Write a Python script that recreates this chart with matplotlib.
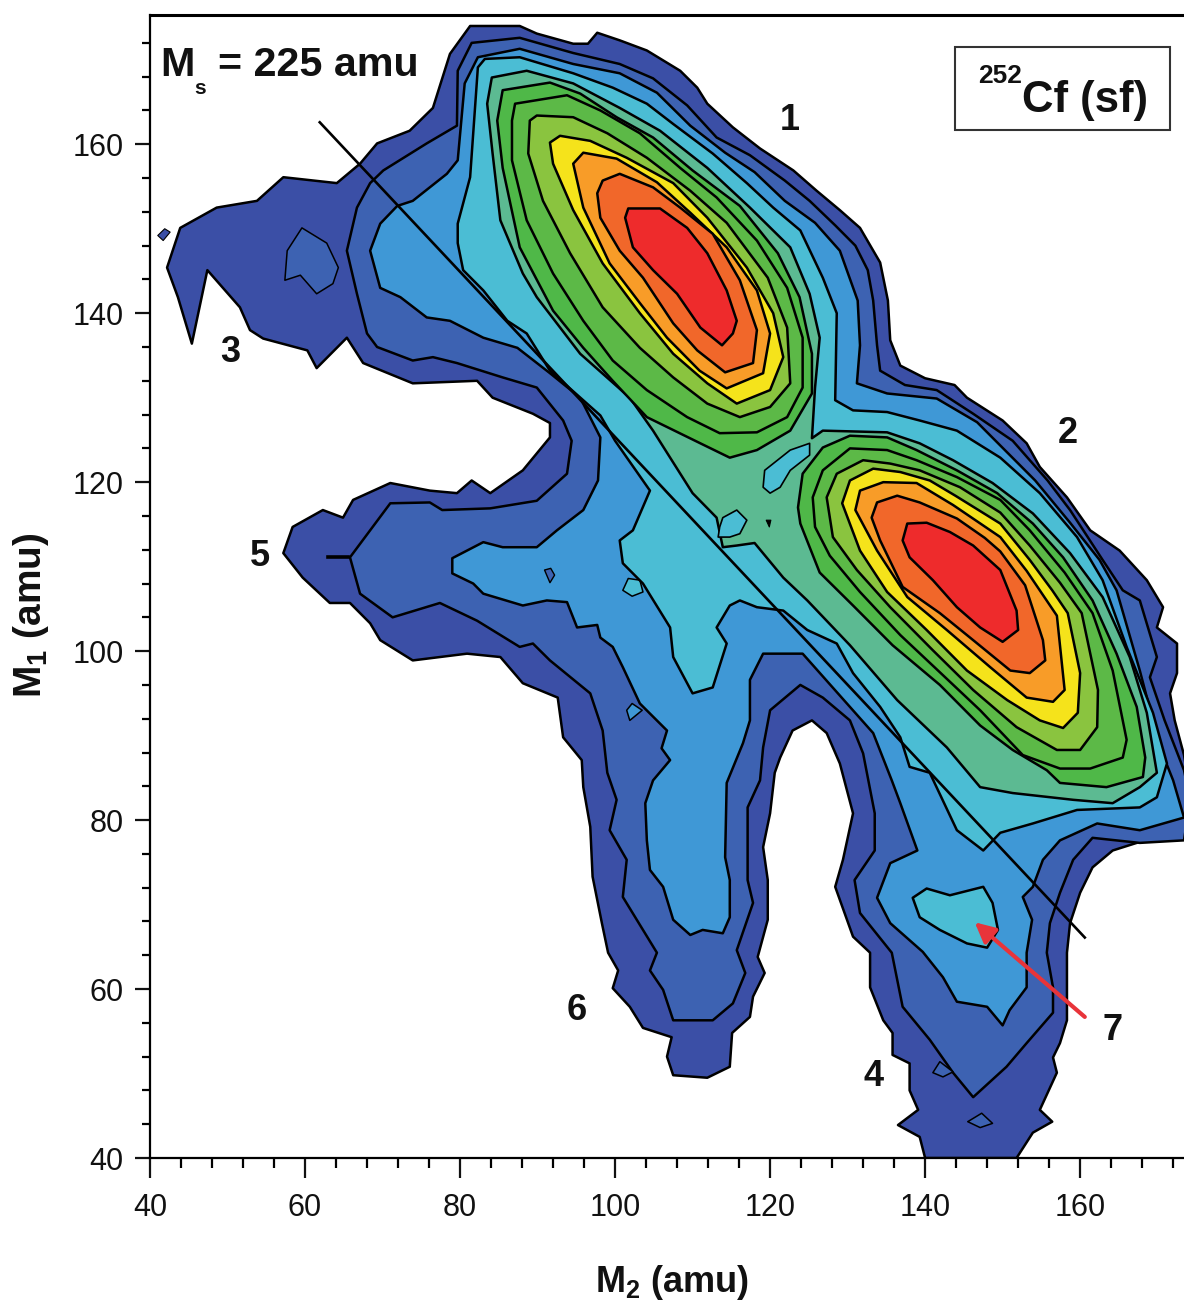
import matplotlib
matplotlib.use("Agg")
import matplotlib.pyplot as plt
from matplotlib.patches import Rectangle
from matplotlib.ticker import MultipleLocator

# contour outlines, (M2, M1) in amu
level0 = [(81.3, 174.0), (87.7, 174.0), (89.9, 173.1), (94.6, 171.9), (96.5, 171.9), (97.7, 173.2), (100.6, 172.3),
          (104.1, 171.1), (108.4, 168.7), (110.6, 166.7), (111.9, 164.8), (115.2, 162.0), (118.7, 159.5), (123.0, 156.9),
          (126.0, 154.5), (129.0, 152.2), (131.6, 150.1), (134.2, 146.0), (135.2, 141.5), (135.5, 136.8), (136.8, 133.8),
          (140.0, 132.3), (143.8, 131.5), (145.4, 130.0), (150.0, 127.3), (153.1, 124.6), (154.8, 121.8), (158.3, 118.2),
          (161.3, 114.3), (165.1, 111.9), (168.6, 108.4), (170.7, 105.2), (169.9, 102.8), (172.5, 100.9), (172.5, 97.4),
          (171.6, 95.0), (172.2, 91.8), (173.4, 87.7), (174.2, 83.5), (173.4, 79.4), (167.3, 77.3), (164.2, 76.4),
          (161.6, 74.4), (160.0, 71.4), (158.7, 67.8), (158.3, 64.3), (158.3, 56.3), (157.4, 53.6), (156.5, 51.9),
          (157.0, 50.1), (154.8, 45.7), (156.4, 44.3), (153.9, 43.0), (151.8, 40.0), (140.0, 40.0), (139.3, 42.5),
          (136.5, 43.9), (139.1, 45.7), (138.0, 48.0), (138.0, 51.2), (135.8, 52.2), (135.8, 54.8), (134.6, 56.3),
          (132.9, 60.2), (132.9, 64.3), (130.7, 66.2), (128.4, 72.1), (129.4, 75.3), (130.7, 80.8), (129.0, 86.7),
          (127.3, 90.3), (125.4, 91.8), (122.9, 90.6), (121.3, 87.4), (120.6, 85.6), (120.0, 80.8), (119.1, 76.8),
          (119.7, 72.9), (119.7, 68.2), (118.4, 63.8), (119.3, 61.9), (117.8, 59.1), (117.4, 56.7), (115.1, 54.8),
          (114.8, 50.8), (111.9, 49.5), (107.5, 49.8), (106.7, 52.0), (107.3, 54.3), (103.6, 55.4), (101.9, 57.9),
          (99.7, 60.1), (100.4, 62.2), (99.1, 64.3), (98.3, 67.8), (97.1, 73.3), (96.8, 79.2), (95.9, 83.9), (95.7, 87.1),
          (93.3, 89.8), (92.6, 94.5), (88.1, 96.2), (85.2, 99.3), (80.9, 99.7), (73.9, 98.9), (69.7, 101.3), (68.4, 103.3),
          (65.8, 105.7), (63.2, 105.7), (59.7, 108.7), (57.2, 111.6), (58.4, 114.7), (62.3, 116.7), (64.9, 115.8),
          (66.2, 117.9), (71.0, 119.9), (76.1, 119.0), (79.6, 118.7), (81.5, 120.2), (83.9, 118.7), (88.1, 121.4),
          (91.6, 125.3), (91.6, 127.0), (89.4, 128.1), (84.2, 130.0), (82.2, 132.0), (73.9, 131.7), (67.5, 134.1),
          (65.4, 137.1), (61.5, 133.5), (60.3, 135.6), (54.6, 137.0), (52.9, 138.0), (51.6, 140.7), (47.4, 145.1),
          (45.4, 136.4), (43.6, 141.9), (42.2, 145.4), (43.9, 150.1), (48.6, 152.5), (53.8, 153.3), (57.2, 156.1),
          (64.1, 155.4), (67.1, 157.7), (69.3, 160.1), (73.5, 161.6), (76.5, 164.3), (78.7, 170.7)]
level1 = [(81.5, 172.0), (87.7, 172.6), (94.6, 170.8), (100.6, 169.5), (104.9, 167.8), (109.3, 164.6), (113.1, 160.8),
          (117.4, 158.7), (121.9, 155.7), (125.1, 153.3), (128.4, 150.4), (131.0, 148.0), (132.6, 145.1), (133.3, 141.5),
          (133.8, 136.2), (134.2, 133.2), (137.4, 131.5), (141.5, 130.9), (146.2, 128.1), (151.3, 124.9), (155.8, 120.2),
          (158.7, 116.7), (162.9, 110.8), (165.5, 107.2), (167.7, 106.0), (169.9, 99.3), (169.0, 96.9), (170.9, 91.8),
          (173.4, 85.9), (174.2, 82.4), (173.4, 77.6), (167.7, 77.3), (161.6, 77.9), (159.1, 75.3), (157.4, 71.4),
          (156.1, 67.8), (155.7, 64.3), (156.5, 60.2), (156.5, 57.2), (153.1, 53.6), (150.5, 50.8), (146.2, 47.2),
          (143.6, 50.1), (140.6, 54.0), (137.1, 57.9), (135.7, 64.3), (131.6, 69.0), (130.9, 72.9), (133.5, 76.4),
          (133.5, 80.8), (132.0, 87.9), (130.3, 91.8), (126.8, 94.5), (123.9, 96.0), (120.0, 93.0), (119.1, 88.6),
          (118.7, 84.7), (117.1, 81.5), (117.1, 72.9), (117.8, 70.2), (115.7, 64.6), (116.8, 61.9), (115.2, 58.3),
          (112.6, 56.3), (107.5, 56.3), (106.2, 59.9), (104.5, 62.2), (105.4, 64.3), (101.0, 70.9), (101.5, 75.3),
          (99.3, 78.8), (100.2, 82.4), (99.0, 85.6), (98.4, 90.6), (96.8, 95.0), (91.6, 98.9), (89.4, 100.9), (87.7, 100.5),
          (82.2, 103.6), (77.4, 105.7), (71.3, 104.0), (67.1, 106.8), (65.8, 111.1), (71.0, 117.5), (76.1, 117.6),
          (77.7, 116.7), (83.9, 116.9), (89.9, 117.8), (93.8, 121.0), (94.4, 124.9), (93.3, 127.3), (89.9, 131.2),
          (85.5, 132.4), (79.6, 134.1), (76.5, 134.8), (73.9, 134.4), (69.3, 136.0), (68.0, 137.6), (66.7, 142.3),
          (65.4, 147.4), (66.7, 152.5), (68.4, 155.4), (70.1, 156.9), (75.7, 160.1), (79.6, 162.2), (79.7, 168.7)]
level2 = [(82.3, 170.3), (87.7, 171.3), (94.6, 169.5), (100.6, 168.4), (105.4, 166.1), (109.7, 162.2), (114.2, 159.0),
          (118.0, 156.7), (121.9, 153.3), (125.8, 150.7), (129.0, 147.4), (131.3, 141.5), (131.6, 136.2), (131.2, 131.7),
          (135.1, 130.5), (141.5, 129.9), (146.7, 127.1), (154.2, 120.2), (158.7, 115.2), (162.5, 110.8), (164.7, 107.2),
          (167.7, 97.7), (170.3, 88.6), (172.0, 84.7), (173.4, 80.3), (167.7, 78.8), (162.2, 79.6), (157.4, 77.6),
          (155.2, 75.3), (153.9, 72.1), (152.6, 70.9), (153.8, 68.2), (153.1, 64.3), (153.1, 60.2), (150.9, 57.5),
          (150.0, 55.7), (148.0, 57.9), (144.1, 58.5), (142.3, 61.4), (139.7, 64.4), (135.5, 67.8), (133.8, 70.8),
          (135.5, 74.9), (139.0, 76.4), (136.8, 82.0), (135.7, 84.7), (133.3, 90.3), (124.2, 99.7), (119.1, 99.7),
          (117.4, 96.6), (117.4, 91.8), (116.5, 89.1), (114.4, 84.4), (114.2, 75.6), (114.8, 72.9), (114.8, 68.5),
          (113.9, 66.6), (111.3, 67.0), (109.7, 66.4), (107.5, 68.2), (106.2, 72.1), (104.5, 74.1), (104.1, 77.6),
          (103.9, 82.0), (104.9, 84.7), (107.1, 87.1), (106.0, 88.5), (106.7, 90.6), (103.2, 93.8), (101.0, 98.1),
          (99.7, 100.5), (98.1, 101.6), (97.7, 103.1), (95.1, 102.8), (93.8, 105.8), (91.2, 106.0), (88.1, 105.4),
          (83.0, 106.8), (81.7, 108.0), (79.0, 109.2), (79.0, 111.0), (83.0, 112.9), (85.5, 112.3), (89.9, 112.3),
          (92.5, 114.3), (95.9, 116.7), (97.8, 120.2), (98.1, 125.3), (95.5, 130.0), (91.6, 132.9), (87.4, 135.9),
          (83.0, 137.1), (78.7, 139.1), (75.7, 139.5), (72.3, 141.9), (69.7, 143.0), (68.4, 147.4), (69.7, 150.6),
          (71.9, 152.7), (73.9, 153.3), (78.3, 156.5), (79.7, 158.1), (80.6, 167.2)]
level3 = [(83.2, 170.1), (87.7, 170.3), (94.6, 168.4), (99.7, 166.7), (104.1, 164.8), (107.5, 162.4), (112.6, 158.9),
          (117.0, 155.4), (120.4, 152.5), (123.9, 149.8), (126.8, 144.2), (128.6, 140.0), (128.4, 129.7), (130.7, 128.5),
          (135.1, 128.3), (139.3, 127.3), (144.1, 126.1), (149.7, 122.9), (154.8, 118.7), (159.6, 113.5), (162.9, 108.4),
          (166.0, 100.5), (169.4, 92.7), (171.2, 86.7), (169.9, 82.7), (167.7, 81.5), (159.6, 81.2), (153.9, 79.6),
          (149.7, 78.5), (147.5, 76.4), (144.1, 78.8), (140.6, 85.6), (138.0, 86.3), (136.8, 89.8), (134.2, 93.4),
          (130.7, 97.4), (128.6, 100.9), (124.8, 102.5), (121.7, 104.8), (118.3, 105.2), (116.1, 106.0), (114.8, 105.4),
          (113.1, 102.8), (114.4, 100.9), (112.6, 95.7), (110.0, 95.0), (107.5, 99.3), (107.1, 102.8), (103.6, 108.0),
          (101.0, 110.4), (100.6, 113.1), (102.3, 114.3), (104.5, 119.0), (100.0, 124.9), (98.1, 127.9), (91.6, 133.2),
          (88.6, 137.6), (86.1, 139.1), (83.0, 142.7), (80.4, 145.1), (79.7, 148.3), (79.7, 150.6), (81.3, 156.1),
          (82.3, 169.1)]
level4 = [(84.1, 167.9), (88.6, 168.7), (94.6, 167.2), (100.6, 164.3), (105.8, 161.6), (111.9, 157.2), (117.4, 152.5),
          (122.6, 147.8), (125.1, 142.3), (126.4, 137.1), (125.8, 131.2), (125.4, 125.2), (126.8, 126.1), (135.1, 125.9),
          (139.3, 124.6), (143.6, 122.6), (148.7, 119.9), (153.9, 116.3), (158.7, 111.6), (162.9, 106.4), (166.4, 99.3),
          (168.6, 92.7), (169.9, 85.6), (167.7, 83.9), (164.2, 82.0), (159.1, 82.4), (151.3, 83.2), (147.1, 83.9),
          (142.8, 88.6), (136.4, 94.2), (130.3, 100.7), (124.8, 106.0), (121.7, 108.7), (118.0, 112.8), (115.7, 112.5),
          (113.9, 112.3), (113.1, 115.8), (110.0, 118.7), (104.9, 126.1), (101.9, 130.0), (95.5, 135.2), (89.9, 141.9),
          (88.1, 144.7), (85.2, 151.0), (84.2, 158.9), (83.5, 164.8)]

# peak 1, upper left of the two
peak1_level5 = [(85.5, 166.4), (91.6, 167.3), (95.5, 166.0), (100.2, 163.2), (104.9, 160.8), (110.0, 156.9), (116.1, 152.7),
                (121.0, 147.1), (123.8, 141.9), (125.4, 135.2), (125.4, 130.5), (122.6, 126.1), (118.3, 123.8),
                (114.8, 122.9), (111.0, 124.6), (104.1, 127.7), (99.7, 132.0), (95.9, 135.9), (92.0, 140.3), (87.7, 147.8),
                (85.5, 157.2), (84.8, 162.8)]
peak1_level6 = [(87.1, 164.8), (93.8, 165.8), (98.1, 164.0), (103.2, 161.3), (108.4, 157.2), (113.1, 153.7), (118.3, 148.6),
                (122.2, 143.0), (124.2, 137.1), (124.2, 131.2), (122.2, 127.7), (118.3, 125.9), (113.5, 125.8),
                (109.3, 127.7), (104.1, 130.9), (99.7, 134.4), (95.9, 139.1), (92.0, 144.7), (88.6, 151.0), (86.7, 158.1),
                (86.7, 162.8)]
peak1_level7 = [(89.0, 162.8), (89.9, 163.4), (94.6, 163.2), (99.0, 161.3), (104.1, 158.4), (109.7, 154.5), (114.4, 150.7),
                (119.7, 144.2), (122.2, 138.3), (122.6, 131.7), (120.0, 128.9), (116.1, 127.7), (111.9, 129.3),
                (107.5, 132.4), (103.2, 135.9), (98.4, 140.7), (94.2, 147.1), (90.7, 153.3), (88.8, 158.9)]
peak1_level8 = [(91.6, 160.2), (92.9, 161.0), (96.8, 160.4), (101.5, 158.4), (107.5, 155.4), (111.9, 151.3), (117.0, 145.4),
                (120.4, 140.0), (121.7, 134.8), (120.0, 130.9), (115.7, 129.3), (111.9, 131.7), (107.5, 135.2),
                (103.2, 140.0), (98.4, 145.9), (94.6, 152.2), (92.0, 157.7)]
peak1_level9 = [(94.6, 157.7), (95.9, 159.0), (100.2, 158.3), (105.4, 155.5), (109.7, 151.9), (114.4, 147.8), (118.3, 142.7),
                (120.0, 137.6), (119.1, 132.9), (114.4, 131.1), (110.9, 133.2), (106.7, 137.1), (103.2, 141.2),
                (99.3, 145.9), (95.9, 152.5)]
peak1_level10 = [(97.7, 154.2), (98.4, 155.7), (100.6, 156.5), (104.9, 154.9), (108.4, 152.5), (112.6, 149.4),
                 (116.1, 143.9), (118.3, 138.0), (117.8, 134.1), (114.2, 133.0), (110.6, 135.6), (107.5, 138.8),
                 (103.6, 144.2), (100.6, 147.4), (98.1, 151.3)]
peak1_level11 = [(101.3, 151.3), (101.7, 152.4), (105.8, 152.4), (109.3, 150.1), (111.9, 147.1), (114.4, 142.7),
                 (115.7, 139.1), (115.2, 137.6), (113.8, 136.2), (111.0, 138.3), (108.0, 142.3), (104.9, 145.1),
                 (102.3, 147.8)]

# peak 2, lower right
peak2_level5 = [(123.6, 117.0), (124.2, 121.0), (126.8, 124.1), (130.3, 125.5), (135.1, 125.3), (138.9, 123.8), (144.1, 121.4),
                (149.3, 118.7), (153.9, 115.1), (157.8, 111.1), (161.6, 106.0), (164.7, 99.7), (167.3, 93.4), (168.4, 87.4),
                (168.1, 85.1), (163.4, 83.9), (157.4, 84.4), (155.7, 85.9), (151.3, 88.3), (147.1, 91.2), (141.9, 96.0),
                (135.8, 100.7), (130.7, 105.4), (126.4, 109.3), (123.9, 115.1)]
peak2_level6 = [(125.5, 118.2), (126.8, 121.4), (130.3, 124.0), (135.1, 123.8), (138.9, 122.6), (144.1, 120.6), (149.7, 117.9),
                (153.5, 114.3), (158.0, 109.3), (161.6, 104.5), (164.2, 97.7), (166.0, 89.5), (165.5, 87.4), (161.3, 86.1),
                (157.4, 86.1), (152.6, 87.7), (147.1, 93.0), (141.9, 97.5), (136.8, 101.9), (131.6, 107.0), (127.7, 111.3),
                (125.8, 114.7)]
peak2_level7 = [(127.3, 118.2), (128.6, 121.0), (132.0, 122.6), (135.5, 122.2), (139.3, 121.4), (144.5, 119.4), (149.7, 116.4),
                (153.5, 112.5), (157.4, 108.1), (160.2, 104.5), (162.3, 95.4), (162.2, 91.0), (160.0, 88.3), (157.0, 88.3),
                (151.8, 91.0), (146.2, 95.4), (141.0, 100.1), (135.5, 105.2), (131.2, 109.6), (128.1, 113.5)]
peak2_level8 = [(129.3, 117.5), (130.3, 120.2), (133.3, 121.6), (136.8, 121.2), (140.6, 120.2), (143.9, 118.4), (149.7, 115.1),
                (153.5, 110.8), (156.4, 107.2), (158.4, 104.5), (160.0, 97.4), (159.7, 92.7), (157.8, 90.9), (154.8, 91.8),
                (150.6, 94.2), (145.4, 97.7), (140.2, 102.5), (135.1, 107.0), (131.6, 111.9)]
peak2_level9 = [(131.0, 116.7), (131.6, 119.0), (134.6, 120.0), (138.9, 119.9), (143.6, 117.3), (149.7, 113.5), (153.1, 109.5),
                (157.0, 104.2), (158.0, 95.4), (156.5, 94.0), (153.1, 94.5), (148.4, 98.1), (142.8, 102.5), (137.7, 106.4),
                (133.8, 111.9)]
peak2_level10 = [(133.1, 115.8), (133.8, 117.6), (136.4, 118.4), (139.3, 117.6), (144.1, 115.7), (147.7, 113.4), (149.7, 111.8),
                 (152.9, 107.8), (155.2, 101.3), (155.5, 98.9), (153.5, 97.4), (151.0, 97.7), (146.2, 101.3), (141.9, 104.5),
                 (137.1, 107.6), (134.2, 113.1)]
peak2_level11 = [(137.1, 113.1), (137.7, 115.1), (140.2, 115.2), (143.2, 114.1), (146.2, 112.5), (149.7, 109.6),
                 (151.8, 104.8), (152.0, 102.5), (150.0, 101.1), (147.1, 102.8), (144.1, 105.2), (141.0, 108.4),
                 (138.0, 111.1)]

# small closed contours
stray_patch = [(41.0, 149.2), (41.9, 150.0), (42.6, 149.6), (41.7, 148.6)]
island_left = [(59.6, 150.1), (62.8, 148.3), (64.3, 145.4), (63.6, 143.5), (61.5, 142.3), (59.4, 144.5), (57.4, 143.9), (57.7, 147.4)]
island_low1 = [(141.0, 50.1), (141.9, 51.4), (143.6, 50.2), (142.3, 49.6)]
island_low2 = [(145.5, 44.3), (147.3, 45.3), (148.7, 44.1), (147.1, 43.6)]
island_star = [(90.9, 109.6), (91.7, 109.8), (92.2, 109.0), (91.6, 108.1)]
island_mid = [(101.5, 93.0), (102.2, 93.8), (103.5, 93.0), (101.9, 91.8)]
island_blob = [(101.0, 107.2), (101.7, 108.6), (103.2, 108.4), (103.6, 107.0), (102.2, 106.5)]
island_arrow = [(138.4, 70.8), (140.2, 71.9), (143.2, 71.1), (147.5, 72.1), (148.7, 70.2), (149.4, 67.0), (148.0, 64.9),
                (145.4, 65.4), (141.9, 67.0), (139.3, 68.5)]
island_bridge = [(119.1, 119.4), (119.3, 121.4), (122.6, 123.8), (125.1, 124.6), (125.1, 123.2), (122.6, 121.4), (121.3, 119.4), (120.0, 118.7)]
island_line = [(113.5, 114.7), (113.9, 115.8), (115.7, 116.7), (117.0, 115.5), (116.1, 113.9), (114.8, 113.5), (113.3, 113.5)]
dot_bridge = [(119.5, 115.5), (120.1, 115.5), (119.9, 114.7)]

ms_line_m2 = [61.9, 160.6]
ms_line_m1 = [162.6, 66.1]

region_labels = ["1", "2", "3", "4", "5", "6", "7"]
region_m2 = [122.6, 158.4, 50.3, 133.3, 54.2, 95.1, 164.2]
region_m1 = [162.8, 125.8, 135.4, 49.7, 111.2, 57.5, 55.1]

colors = ["#3b4fa6", "#3d62b2", "#3f98d6", "#4bbdd4", "#5cba92", "#4fb848", "#5cb947", "#8ac43f",
          "#f5e31b", "#f89c28", "#f1672a", "#ee2b2c"]

plt.rcParams["font.family"] = ["Liberation Sans", "DejaVu Sans"]
plt.rcParams["mathtext.default"] = "regular"

fig = plt.figure(figsize=(11.84, 13.06), dpi=100)
ax = fig.add_axes([150 / 1184, 1 - 1158 / 1306, 1 - 150 / 1184, (1158 - 15) / 1306])


def draw(points, color, zorder=2, lw=1.8):
    xs, ys = zip(*points)
    ax.fill(xs, ys, facecolor=color, edgecolor="black", linewidth=lw, zorder=zorder, joinstyle="round")


draw(stray_patch, colors[0], lw=0.8)
draw(level0, colors[0])
draw(level1, colors[1])
draw(island_left, colors[1], lw=1.1)
draw(island_low1, colors[1], lw=1.1)
draw(island_low2, colors[1], lw=1.1)
draw(level2, colors[2])
draw(island_star, colors[1], lw=1.0)
draw(island_mid, colors[2], lw=1.1)
draw(island_blob, colors[3], lw=1.1)
draw(level3, colors[3])
draw(island_arrow, colors[3])
draw(level4, colors[4])
draw(island_bridge, colors[3], lw=1.2)
draw(island_line, colors[3], lw=1.2)
draw(dot_bridge, "black", lw=0.8)

for i, (p1, p2) in enumerate([(peak1_level5, peak2_level5), (peak1_level6, peak2_level6),
                              (peak1_level7, peak2_level7), (peak1_level8, peak2_level8),
                              (peak1_level9, peak2_level9), (peak1_level10, peak2_level10),
                              (peak1_level11, peak2_level11)]):
    draw(p1, colors[5 + i], zorder=3)
    draw(p2, colors[5 + i], zorder=3)

ax.plot(ms_line_m2, ms_line_m1, color="black", lw=1.9, zorder=4)
ax.plot([63.0, 65.5], [111.1, 111.1], color="black", lw=2.6, zorder=4)

ax.annotate("", xy=(146.4, 67.9), xytext=(160.6, 56.7), zorder=5,
            arrowprops=dict(arrowstyle="-|>", color="#e8343a", lw=3, mutation_scale=30, shrinkA=0, shrinkB=0))

for label, x, y in zip(region_labels, region_m2, region_m1):
    ax.text(x, y, label, fontsize=26, fontweight="bold", ha="center", va="center", color="#111111", zorder=6)

ax.text(41.3, 168.1, "M", fontsize=29.7, fontweight="bold", color="#111111", zorder=6)
ax.text(45.7, 166.0, "s", fontsize=15, fontweight="bold", color="#111111", zorder=6)
ax.text(48.8, 168.1, "= 225 amu", fontsize=29.7, fontweight="bold", color="#111111", zorder=6)

ax.add_patch(Rectangle((143.9, 161.7), 27.7, 9.8, facecolor="white", edgecolor="#333333", lw=1.5, zorder=6))
ax.text(146.8, 167.3, "252", fontsize=19, fontweight="bold", color="#111111", zorder=7)
ax.text(152.5, 163.8, "Cf (sf)", fontsize=31.5, fontweight="bold", color="#111111", zorder=7)

ax.set_xlim(40, 173.4)
ax.set_ylim(40, 175.3)
ax.xaxis.set_major_locator(MultipleLocator(20))
ax.xaxis.set_minor_locator(MultipleLocator(4))
ax.yaxis.set_major_locator(MultipleLocator(20))
ax.yaxis.set_minor_locator(MultipleLocator(4))
ax.tick_params(axis="x", which="major", direction="out", length=14.5, width=1.6, labelsize=22, pad=11, colors="#111111")
ax.tick_params(axis="y", which="major", direction="out", length=11, width=1.6, labelsize=22, pad=8, colors="#111111")
ax.tick_params(axis="x", which="minor", direction="out", length=7, width=1.6)
ax.tick_params(axis="y", which="minor", direction="out", length=6, width=1.6)

ax.spines["right"].set_visible(False)
ax.spines["top"].set_linewidth(2.2)
ax.spines["left"].set_linewidth(1.6)
ax.spines["bottom"].set_linewidth(1.6)
for s in ax.spines.values():
    s.set_zorder(8)

fig.text(672 / 1184, 1 - 1292 / 1306, "M$_{2}$ (amu)", fontsize=26, fontweight="bold", ha="center", color="#111111")
fig.text(31 / 1184, 1 - 615 / 1306, "M$_{1}$ (amu)", fontsize=28, fontweight="bold", rotation=90,
         ha="center", va="center", color="#111111")

fig.savefig("out.png", dpi=100)
